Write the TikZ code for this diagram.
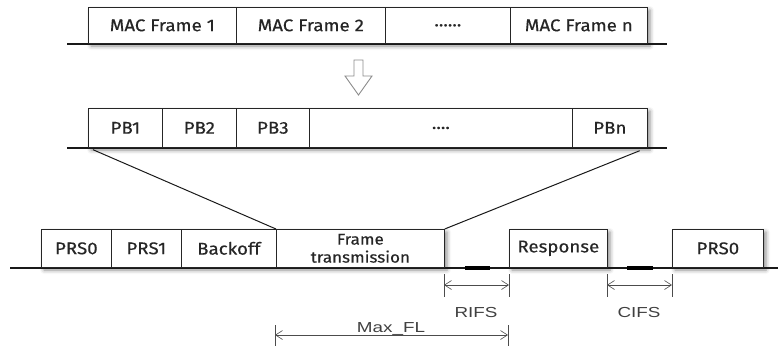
\documentclass[tikz,border=0pt]{standalone}
\usepackage{fontspec}
\setmainfont[FakeStretch=1.1,FakeBold=0.35]{Fira Sans}
\newfontfamily\dimfont[FakeStretch=1.3]{Liberation Sans}
\usetikzlibrary{arrows.meta,shadows.blur}

\begin{document}
\begin{tikzpicture}[x=1pt,y=-1pt,
  field/.style={draw=black!85, line width=0.7pt, fill=white, inner sep=0pt,
    anchor=north west, text=black!85, font=\fontsize{17}{19}\selectfont},
  rowshadow/.style={fill=white, blur shadow={shadow xshift=3pt, shadow yshift=-3pt,
    shadow blur radius=4pt, shadow opacity=45}},
  medium/.style={line width=1.8pt, black!90},
  tick/.style={line width=0.6pt, black!70},
  dimline/.style={line width=0.6pt, black!70, {Straight Barb[length=7pt,width=9pt]}-{Straight Barb[length=7pt,width=9pt]}},
  dimlabel/.style={text=black!75, font=\dimfont\fontsize{14.5}{16}\selectfont, inner sep=0pt, anchor=base},
  funnel/.style={line width=1pt, black!90}]
\useasboundingbox (0,0) rectangle (778,346);

% ---- MAC frames ----
\fill[rowshadow] (88,7) rectangle (647,43);
\draw[medium] (67,44) -- (667,44);
\node[field, minimum width=148pt, minimum height=36pt] (m1) at (88,7) {MAC Frame 1};
\node[field, minimum width=149pt, minimum height=36pt] (m2) at (236,7) {MAC Frame 2};
\node[field, minimum width=125pt, minimum height=36pt] (m3) at (385,7) {......};
\node[field, minimum width=137pt, minimum height=36pt] (mn) at (510,7) {MAC Frame n};

% ---- hollow arrow ----
\draw[black!45, line width=0.9pt, fill=white]
  (354,60) -- (363,60) -- (363,76) -- (372,76) -- (358.5,95) -- (345,76) -- (354,76) -- cycle;

% ---- PHY blocks ----
\fill[rowshadow] (88,108) rectangle (647,147);
\draw[medium] (67,148) -- (667,148);
\node[field, minimum width=74pt, minimum height=39pt] (pb1) at (88,108) {PB1};
\node[field, minimum width=74pt, minimum height=39pt] (pb2) at (162,108) {PB2};
\node[field, minimum width=73pt, minimum height=39pt] (pb3) at (236,108) {PB3};
\node[field, minimum width=263pt, minimum height=39pt, text depth=-6pt] (pbd) at (309,108) {....};
\node[field, minimum width=75pt, minimum height=39pt] (pbn) at (572,108) {PBn};

% ---- medium access timeline ----
\fill[rowshadow] (41,229) rectangle (444,267);
\fill[rowshadow] (509,229) rectangle (607,267);
\fill[rowshadow] (672,229) rectangle (763,267);
\draw[medium] (10,268) -- (778,268);
\draw[line width=3.2pt, black] (465,268) -- (490,268);
\draw[line width=3.2pt, black] (627,268) -- (653,268);
\node[field, minimum width=70pt, minimum height=38pt] (prs0) at (41,229) {PRS0};
\node[field, minimum width=70pt, minimum height=38pt] (prs1) at (111,229) {PRS1};
\node[field, minimum width=95pt, minimum height=38pt] (boff) at (181,229) {Backoff};
\node[field, minimum width=168pt, minimum height=38pt, align=center,
  font=\fontsize{15.5}{18}\selectfont] (ft) at (276,229) {Frame\\transmission};
\node[field, minimum width=98pt, minimum height=38pt] (resp) at (509,229) {Response};
\node[field, minimum width=91pt, minimum height=38pt] (prsn) at (672,229) {PRS0};

% ---- mapping of the PHY blocks onto the transmission ----
\draw[funnel] ([xshift=5pt,yshift=-2pt]pb1.south west) -- (ft.north west);
\draw[funnel] ([xshift=-8pt,yshift=-3pt]pbn.south east) -- (ft.north east);

% ---- interframe spaces ----
\coordinate (r1) at (444,285);
\coordinate (r2) at (509,285);
\coordinate (c1) at (607,285);
\coordinate (c2) at (672,285);
\foreach \x in {444,509,607,672} \draw[tick] (\x,274) -- (\x,297);
\draw[dimline] (r1) -- (r2);
\draw[dimline] (c1) -- (c2);
\node[dimlabel] (rifs) at (476,317) {RIFS};
\node[dimlabel] (cifs) at (639,317) {CIFS};

% ---- maximum frame length ----
\coordinate (f1) at (275,335);
\coordinate (f2) at (508,335);
\draw[tick] (275,325) -- (275,346);
\draw[tick] (508,325) -- (508,346);
\draw[dimline] (f1) -- (f2);
\node[dimlabel] (maxfl) at (391,332) {Max\_FL};
\end{tikzpicture}
\end{document}
